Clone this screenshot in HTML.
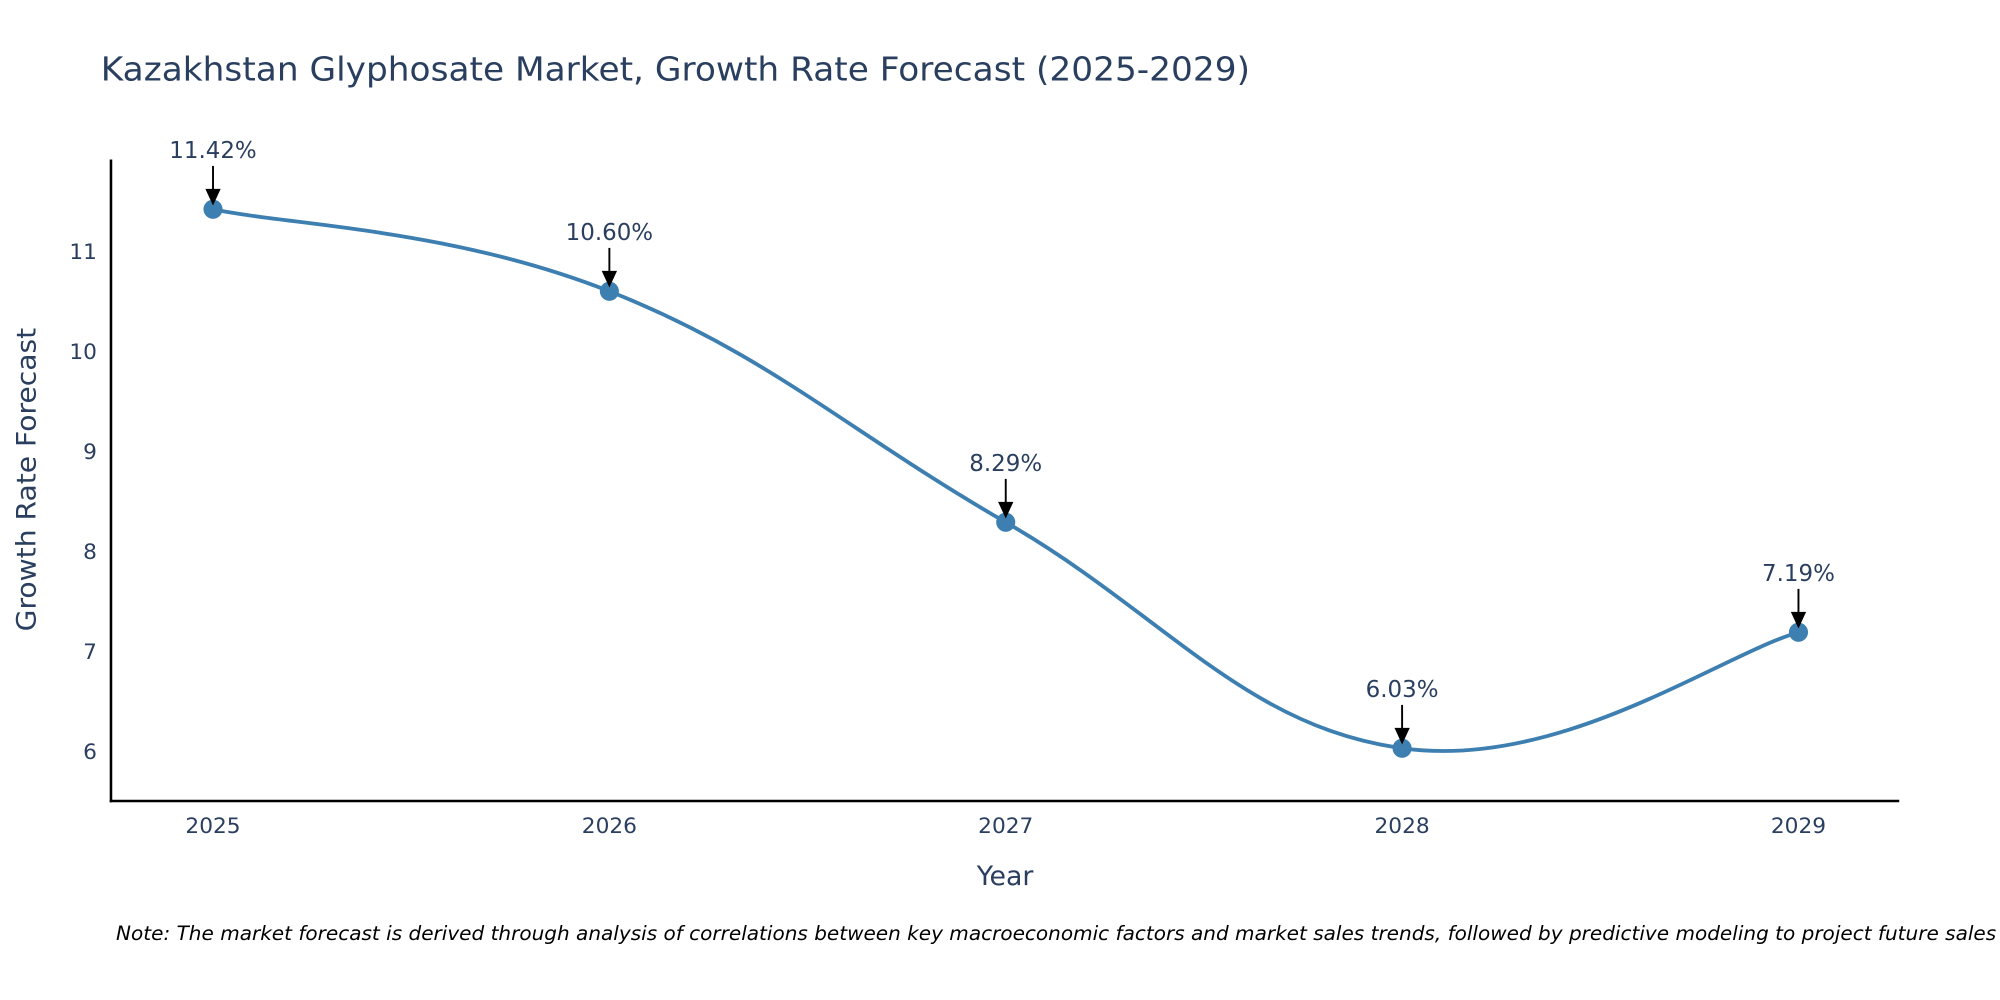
<!DOCTYPE html>
<html><head><meta charset="utf-8"><style>
html,body{margin:0;padding:0;background:#fff;}
svg{display:block;font-family:"DejaVu Sans","Liberation Sans",sans-serif;}
</style></head><body>
<svg id="chart" width="2000" height="1000" viewBox="0 0 1568 784" xmlns="http://www.w3.org/2000/svg">
<text x="79" y="63" font-size="26" fill="#2a3f5f" textLength="901" lengthAdjust="spacingAndGlyphs">Kazakhstan Glyphosate Market, Growth Rate Forecast (2025-2029)</text>
<g id="yticks"></g><g id="xticks"></g>
<line x1="87" y1="125" x2="87" y2="629" stroke="#000" stroke-width="2"/>
<line x1="86" y1="628" x2="1489" y2="628" stroke="#000" stroke-width="2"/>
<text transform="translate(28,376) rotate(-90)" text-anchor="middle" font-size="21" fill="#2a3f5f" textLength="238" lengthAdjust="spacingAndGlyphs">Growth Rate Forecast</text>
<text x="788" y="694" text-anchor="middle" font-size="21" fill="#2a3f5f">Year</text>
<g id="series"></g>
<text x="91" y="737" font-size="15" font-style="italic" fill="#000" textLength="1474" lengthAdjust="spacingAndGlyphs">Note: The market forecast is derived through analysis of correlations between key macroeconomic factors and market sales trends, followed by predictive modeling to project future sales</text>
</svg>
<script>
const years=[2025,2026,2027,2028,2029];
const values=[11.42,10.60,8.29,6.03,7.19];
const labels=["11.42%","10.60%","8.29%","6.03%","7.19%"];
const yTicks=[6,7,8,9,10,11];
const NS="http://www.w3.org/2000/svg";
function xs(i){return 167+i*310.75;}
function ys(v){return 589-(v-6)*78.4;}
function mk(t,a,p){const e=document.createElementNS(NS,t);for(const k in a)e.setAttribute(k,a[k]);p.appendChild(e);return e;}
const yt=document.getElementById('yticks');
yTicks.forEach(v=>{const t=mk('text',{x:76,y:ys(v)+6,'text-anchor':'end','font-size':17,fill:'#2a3f5f'},yt);t.textContent=v;

});
const xt=document.getElementById('xticks');
years.forEach((y,i)=>{const t=mk('text',{x:xs(i),y:653,'text-anchor':'middle','font-size':17,fill:'#2a3f5f'},xt);t.textContent=y;

});
const s=document.getElementById('series');
const P=values.map((v,i)=>[xs(i),ys(v)]);
let d='M'+P[0][0]+','+P[0][1];
for(let i=0;i<P.length-1;i++){const p0=P[Math.max(0,i-1)],p1=P[i],p2=P[i+1],p3=P[Math.min(P.length-1,i+2)];const k=0.2;
d+=' C'+(p1[0]+(p2[0]-p0[0])*k)+','+(p1[1]+(p2[1]-p0[1])*k)+' '+(p2[0]-(p3[0]-p1[0])*k)+','+(p2[1]-(p3[1]-p1[1])*k)+' '+p2[0]+','+p2[1];}
const line=mk('path',{d:d,fill:'none',stroke:'#3d7fb0','stroke-width':3},s);


P.forEach((p,i)=>{const c=mk('circle',{cx:p[0],cy:p[1],r:7.5,fill:'#3d7fb0'},s);


const a=mk('line',{x1:p[0],y1:p[1]-34,x2:p[0],y2:p[1]-14,stroke:'#000','stroke-width':1.5},s);


const h=mk('path',{d:'M'+(p[0]-6)+','+(p[1]-16)+' L'+(p[0]+6)+','+(p[1]-16)+' L'+p[0]+','+(p[1]-3)+' Z',fill:'#000'},s);


const t=mk('text',{x:p[0],y:p[1]-40,'text-anchor':'middle','font-size':18,fill:'#2a3f5f'},s);t.textContent=labels[i];

});
</script>
</body></html>
